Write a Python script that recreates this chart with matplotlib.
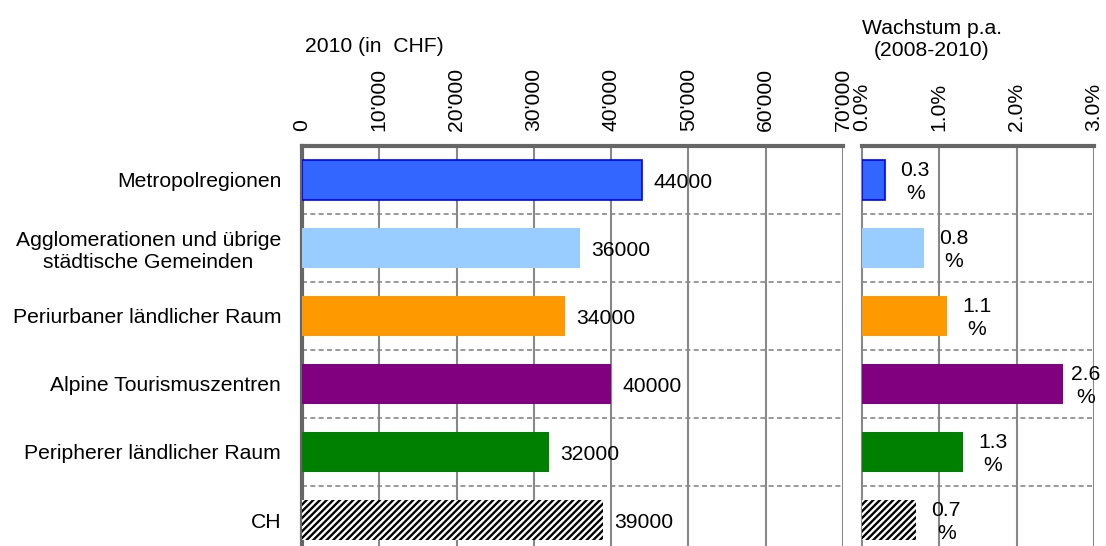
import matplotlib
matplotlib.use("Agg")
import matplotlib.pyplot as plt

plt.rcParams['font.family'] = ['Liberation Sans', 'DejaVu Sans']
plt.rcParams['hatch.linewidth'] = 1.7

categories = ["Metropolregionen",
              "Agglomerationen und übrige\nstädtische Gemeinden",
              "Periurbaner ländlicher Raum",
              "Alpine Tourismuszentren",
              "Peripherer ländlicher Raum",
              "CH"]
income_2010 = [44000, 36000, 34000, 40000, 32000, 39000]
growth_pct = [0.3, 0.8, 1.1, 2.6, 1.3, 0.7]
colors = ["#3366FF", "#99CCFF", "#FF9900", "#800080", "#008000", "white"]
left_ticks = [0, 10000, 20000, 30000, 40000, 50000, 60000, 70000]
left_ticklabels = ["0", "10'000", "20'000", "30'000", "40'000", "50'000", "60'000", "70'000"]
right_ticks = [0, 1, 2, 3]
right_ticklabels = ["0.0%", "1.0%", "2.0%", "3.0%"]

FS = 15.2
W, H = 1106, 546
fig = plt.figure(figsize=(W / 100, H / 100), dpi=100)

top_px = 146
row_px = 68
n = len(categories)
bottom_px = top_px + row_px * n
ax_b = (H - bottom_px) / H
ax_h = (row_px * n) / H

ax2_left_px, ax2_right_px = 862, 1094
ax1 = fig.add_axes([302 / W, ax_b, (843 - 302) / W, ax_h])
ax2 = fig.add_axes([ax2_left_px / W, ax_b, (ax2_right_px - ax2_left_px) / W, ax_h])

ypos = list(range(n))
grid_col = "#888888"
spine_col = "#666666"

for ax, vals, xmax, ticks, tlabels in [
        (ax1, income_2010, 70000, left_ticks, left_ticklabels),
        (ax2, growth_pct, 3.0, right_ticks, right_ticklabels)]:
    ax.set_xlim(0, xmax)
    ax.set_ylim(n - 0.5, -0.5)
    for i, (v, c) in enumerate(zip(vals, colors)):
        if i == n - 1:
            ax.barh(i, v, height=0.6, color="white", edgecolor="black",
                    linewidth=0, hatch="/////", zorder=3)
        elif i == 0:
            ax.barh(i, v, height=0.6, color=c, edgecolor="#0000FF",
                    linewidth=1.2, zorder=3)
        else:
            ax.barh(i, v, height=0.6, color=c, linewidth=0, zorder=3)
    ax.xaxis.tick_top()
    ax.set_xticks(ticks)
    ax.set_xticklabels(tlabels, rotation=90, fontsize=FS)
    ax.tick_params(axis='x', length=0, pad=11)
    ax.tick_params(axis='y', length=0)
    for t in ticks[1:]:
        ax.axvline(t, color=grid_col, lw=1.5, zorder=1)
    for k in range(n):
        ax.axhline(k + 0.5, color=grid_col, lw=1.2, ls=(0, (3, 2)), zorder=1)
    for s in ['right', 'bottom']:
        ax.spines[s].set_visible(False)
    ax.spines['top'].set_color(spine_col)
    ax.spines['top'].set_linewidth(3)

ax1.spines['left'].set_color(spine_col)
ax1.spines['left'].set_linewidth(3)
ax2.spines['left'].set_color(grid_col)
ax2.spines['left'].set_linewidth(1.5)

ax1.set_yticks(ypos)
ax1.set_yticklabels(categories, fontsize=FS, multialignment='center')
ax1.tick_params(axis='y', pad=15)
ax2.set_yticks([])

for i, v in enumerate(income_2010):
    ax1.annotate(f"{v}", xy=(v, i), xytext=(8, -2), textcoords="offset points",
                 ha="left", va="center", fontsize=FS, zorder=5)

px_per_unit = (ax2_right_px - ax2_left_px) / 3.0
max_center_px = 224  # keep label inside plot area, like the original
for i, v in enumerate(growth_pct):
    end_px = v * px_per_unit
    center_px = min(end_px + 30, max_center_px)
    off_pt = (center_px - end_px) * 0.72
    ax2.annotate(f"{v:.1f}\n%", xy=(v, i), xytext=(off_pt, -1.5), textcoords="offset points",
                 ha="center", va="center", fontsize=FS, linespacing=1.3,
                 multialignment='center', zorder=5)

fig.text(305 / W, 1 - 46 / H, "2010 (in  CHF)", ha="left", va="center", fontsize=FS)
fig.text(932 / W, 1 - 40 / H, "Wachstum p.a.\n(2008-2010)", ha="center", va="center",
         fontsize=FS, linespacing=1.2, multialignment='center')

fig.savefig("out.png", dpi=100)
